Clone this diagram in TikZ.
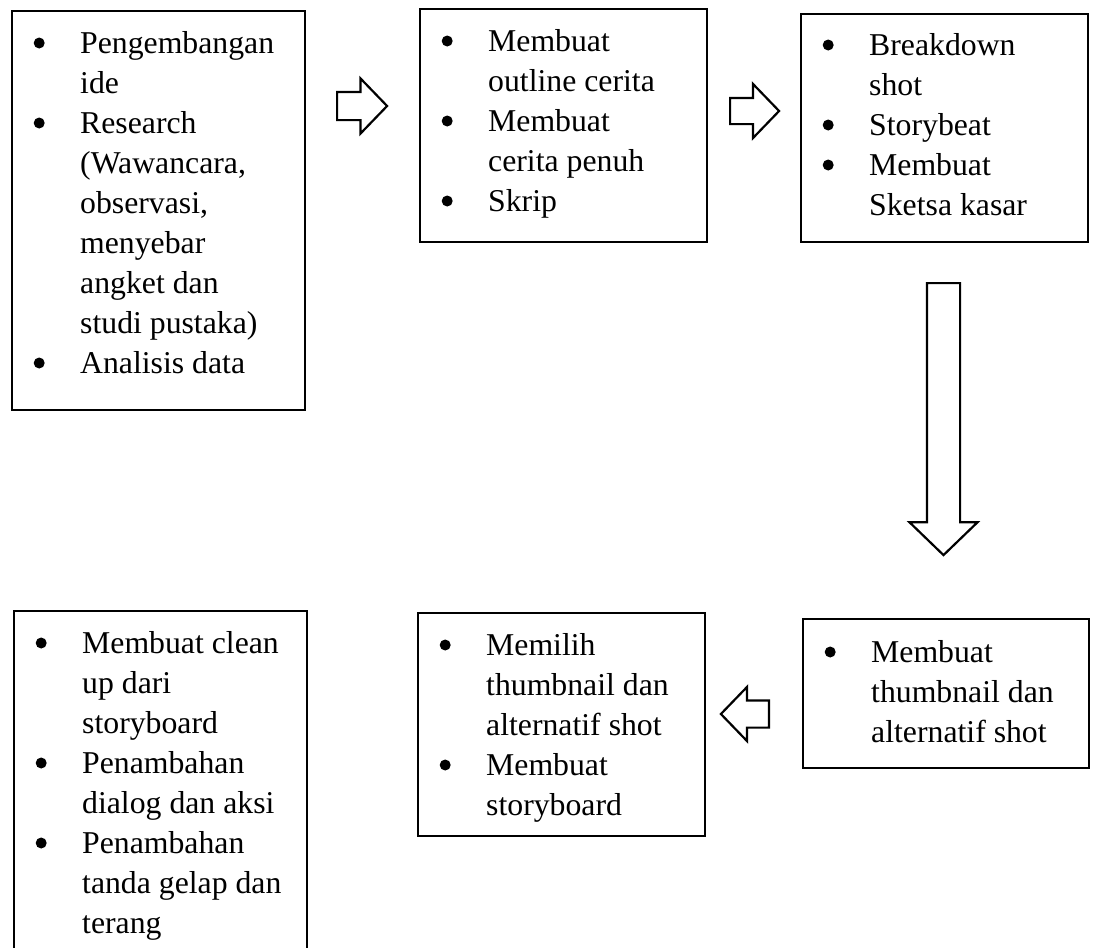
\documentclass[tikz,border=0pt]{standalone}
\usepackage{fontspec}
\setmainfont{Liberation Serif}
\usetikzlibrary{shapes.arrows}
\tikzset{
  kotak/.style={draw,line width=1.8pt,inner sep=0pt,anchor=north west},
  isi/.style={inner sep=0pt,anchor=base west,font=\fontsize{31.75}{40}\selectfont},
  panah/.style={single arrow,draw,line width=2.2pt,anchor=tail,single arrow tip angle=92}
}
% bullet titik
\newcommand{\bt}{\hspace*{22.5pt}\tikz[baseline={(0pt,-10pt)}]\fill (0pt,0pt) circle (5.5pt);}
\newcommand{\daftar}[1]{\begin{tabular}[t]{@{}p{69pt}@{}l@{}}#1\end{tabular}}
\begin{document}
\begin{tikzpicture}[x=1pt,y=-1pt]
	\useasboundingbox (0,0) rectangle (1093,948);
	\clip (0,0) rectangle (1093,948);
	% baris atas
	\node[kotak,minimum width=293pt,minimum height=399pt] (ide) at (11,10) {};
	\node[kotak,minimum width=287pt,minimum height=233pt] (cerita) at (419,8) {};
	\node[kotak,minimum width=287pt,minimum height=228pt] (sketsa) at (800,13) {};
	% baris bawah
	\node[kotak,minimum width=286pt,minimum height=149pt] (thumb) at (802,618) {};
	\node[kotak,minimum width=287pt,minimum height=223pt] (pilih) at (417,612) {};
	\node[kotak,minimum width=293pt,minimum height=360pt] (bersih) at (13,610) {};
	% isi kotak
	\node[isi] (tide) at ([shift={(0,43)}]ide.north west) {\daftar{
		\bt & Pengembangan\\ & ide\\ \bt & Research\\ & (Wawancara,\\ & observasi,\\
		& menyebar\\ & angket dan\\ & studi pustaka)\\ \bt & Analisis data}};
	\node[isi] (tcerita) at ([shift={(0,43)}]cerita.north west) {\daftar{
		\bt & Membuat\\ & outline cerita\\ \bt & Membuat\\ & cerita penuh\\ \bt & Skrip}};
	\node[isi] (tsketsa) at ([shift={(0,42)}]sketsa.north west) {\daftar{
		\bt & Breakdown\\ & shot\\ \bt & Storybeat\\ \bt & Membuat\\ & Sketsa kasar}};
	\node[isi] (tthumb) at ([shift={(0,44)}]thumb.north west) {\daftar{
		\bt & Membuat\\ & thumbnail dan\\ & alternatif shot}};
	\node[isi] (tpilih) at ([shift={(0,43)}]pilih.north west) {\daftar{
		\bt & Memilih\\ & thumbnail dan\\ & alternatif shot\\ \bt & Membuat\\ & storyboard}};
	\node[isi] (tbersih) at ([shift={(0,43)}]bersih.north west) {\daftar{
		\bt & Membuat clean\\ & up dari\\ & storyboard\\ \bt & Penambahan\\
		& dialog dan aksi\\ \bt & Penambahan\\ & tanda gelap dan\\ & terang}};
	% panah blok
	\node[panah,minimum height=50pt,inner sep=13pt,single arrow head extend=13.5pt] (p1) at (336,106) {};
	\node[panah,minimum height=49pt,inner sep=12pt,single arrow head extend=14pt] (p2) at (729,111) {};
	\node[panah,shape border rotate=270,minimum height=272pt,inner sep=15.5pt,single arrow head extend=17.5pt] (p3) at (943.5,282) {};
	\node[panah,shape border rotate=180,minimum height=48pt,inner sep=12.5pt,single arrow head extend=13.5pt] (p4) at (770,714) {};
\end{tikzpicture}
\end{document}
